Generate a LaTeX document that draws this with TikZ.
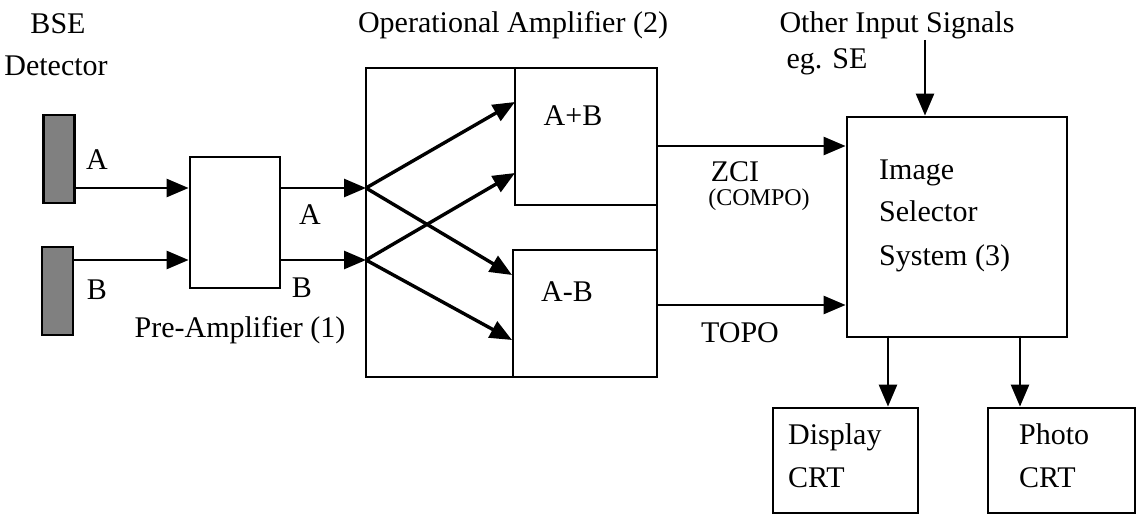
\documentclass[tikz,border=0pt]{standalone}
\usepackage{fontspec}
\setmainfont{Liberation Serif}
\usetikzlibrary{arrows.meta,patterns}
\begin{document}
\begin{tikzpicture}[x=1pt,y=-1pt,
  box/.style={draw,line width=2.8pt,minimum width=#1,inner sep=0pt},
  lbl/.style={inner sep=0pt,font=\fontsize{30}{36}\selectfont},
  small/.style={inner sep=0pt,font=\fontsize{24}{28}\selectfont},
  arr/.style={line width=2.6pt,-{Triangle[length=22pt,width=18pt]}},
  xarr/.style={line width=3.4pt,-{Triangle[length=22pt,width=18pt]}},
  det/.style={draw,line width=2.6pt,fill=black!50,minimum width=31pt,minimum height=88pt,inner sep=0pt}]
\useasboundingbox (0,0) rectangle (1140,518);
% detectors
\node[det] (detA) at (59,159) {};
\node[det] (detB) at (57.5,291) {};
\node[lbl] (tBSE) at (58,24) {BSE};
\node[lbl] (tDet) at (56,66) {Detector};
\node[lbl] (tA1) at (97,160) {A};
\node[lbl] (tB1) at (97,290) {B};
% preamplifier
\node[box=90pt,minimum height=131pt] (pre) at (235,222.5) {};
\node[lbl] (tpre) at (240,330) {Pre-Amplifier (1)};
\node[lbl] (tA2) at (310,215) {A};
\node[lbl] (tB2) at (302,288) {B};
% operational amplifier
\node[box=291pt,minimum height=309pt] (op) at (511.5,222.5) {};
\node[box=142pt,minimum height=137pt] (apb) at (586,136.5) {};
\node[box=144pt,minimum height=127pt] (amb) at (585,313.5) {};
\node[lbl] (tapb) at (573,116) {A+B};
\node[lbl] (tamb) at (567,292) {A-B};
\node[lbl] (top) at (513,25) {Operational Amplifier (2)};
% image selector
\node[box=220pt,minimum height=220pt] (sel) at (957,227) {};
\node[lbl,align=left,anchor=west] (tsel) at (879,216) {Image\\[6pt]Selector\\[8pt]System (3)};
\node[lbl] (tother) at (897,25) {Other Input Signals};
\node[lbl] (teg) at (827,62) {eg. SE};
\node[lbl] (tzci) at (735,172) {ZCI};
\node[small] (tcompo) at (759,200) {(COMPO)};
\node[lbl] (ttopo) at (740,333) {TOPO};
% CRTs
\node[box=145pt,minimum height=105pt] (disp) at (845.5,460.5) {};
\node[box=147pt,minimum height=105pt] (photo) at (1061.5,460.5) {};
\node[lbl,align=left,anchor=west] (tdisp) at (788,456) {Display\\[7pt]CRT};
\node[lbl,align=left,anchor=west] (tphoto) at (1019,456) {Photo\\[7pt]CRT};
% coordinates
\coordinate (yA) at (0,188);
\coordinate (yB) at (0,260);
\coordinate (sA) at (366,188);
\coordinate (sB) at (366,260);
\coordinate (i1) at (515,102);
\coordinate (i2) at (515,173);
\coordinate (i3) at (512,275);
\coordinate (i4) at (512,340);
\coordinate (yZ) at (0,146);
\coordinate (yT) at (0,305);
\coordinate (oth) at (925,40);
% connectors
\draw[arr] (detA.east |- yA) -- (pre.west |- yA);
\draw[arr] (detB.east |- yB) -- (pre.west |- yB);
\draw[arr] (pre.east |- yA) -- (sA);
\draw[arr] (pre.east |- yB) -- (sB);
\draw[xarr] (sA) -- (i1);
\draw[xarr] (sA) -- (i3);
\draw[xarr] (sB) -- (i2);
\draw[xarr] (sB) -- (i4);
\draw[arr] (apb.east |- yZ) -- (sel.west |- yZ);
\draw[arr] (amb.east |- yT) -- (sel.west |- yT);
\draw[arr] (oth) -- (sel.north -| oth);
\draw[arr] (disp.north -| 888,0) ++(0,-71) -- (disp.north -| 888,0);
\draw[arr] (photo.north -| 1020,0) ++(0,-71) -- (photo.north -| 1020,0);
\end{tikzpicture}
\end{document}
